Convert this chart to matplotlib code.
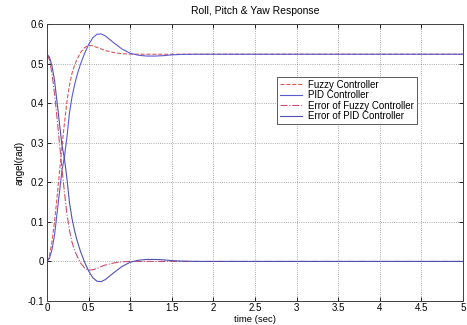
import matplotlib
matplotlib.use("Agg")
import matplotlib.pyplot as plt

plt.rcParams['font.family'] = ['Liberation Sans', 'DejaVu Sans']

time = [0, 0.03, 0.06, 0.09, 0.12, 0.15, 0.18, 0.21, 0.24, 0.27, 0.30, 0.33, 0.36,
        0.40, 0.45, 0.50, 0.55, 0.60, 0.65, 0.70, 0.80, 0.90, 1.00, 1.10, 1.20,
        1.30, 1.40, 1.50, 1.60, 1.80, 2.0, 3.0, 4.0, 5.0]

fuzzy = [0, 0.015, 0.05, 0.10, 0.16, 0.225, 0.29, 0.35, 0.405, 0.445, 0.475, 0.495, 0.51,
         0.527, 0.540, 0.546, 0.545, 0.541, 0.537, 0.533, 0.528, 0.525, 0.524, 0.5236, 0.5236,
         0.5236, 0.5236, 0.5236, 0.5236, 0.5236, 0.5236, 0.5236, 0.5236, 0.5236]

pid = [0, 0.008, 0.03, 0.066, 0.12, 0.175, 0.23, 0.265, 0.315, 0.375, 0.415, 0.445, 0.47,
       0.497, 0.525, 0.548, 0.565, 0.574, 0.575, 0.570, 0.553, 0.537, 0.526, 0.521, 0.519,
       0.519, 0.520, 0.522, 0.523, 0.5236, 0.5236, 0.5236, 0.5236, 0.5236]

err_fuzzy = [0.5236, 0.509, 0.474, 0.424, 0.364, 0.299, 0.234, 0.174, 0.119, 0.079, 0.049, 0.029, 0.014,
             -0.003, -0.016, -0.022, -0.021, -0.018, -0.013, -0.009, -0.004, -0.001, 0.0, 0.0, 0.0,
             0.0, 0.0, 0.0, 0.0, 0.0, 0.0, 0.0, 0.0, 0.0]

err_pid = [0.5236, 0.516, 0.494, 0.458, 0.404, 0.349, 0.294, 0.259, 0.209, 0.149, 0.109, 0.079, 0.054,
           0.027, -0.001, -0.024, -0.041, -0.050, -0.051, -0.046, -0.029, -0.013, -0.002, 0.003, 0.005,
           0.005, 0.004, 0.002, 0.001, 0.0, 0.0, 0.0, 0.0, 0.0]

xticks = [0, 0.5, 1, 1.5, 2, 2.5, 3, 3.5, 4, 4.5, 5]
xticklabels = ['0', '0.5', '1', '1.5', '2', '2.5', '3', '3.5', '4', '4.5', '5']
yticks = [-0.1, 0, 0.1, 0.2, 0.3, 0.4, 0.5, 0.6]
yticklabels = ['-0.1', '0', '0.1', '0.2', '0.3', '0.4', '0.5', '0.6']

fig = plt.figure(figsize=(4.67, 3.25), dpi=100)
ax = fig.add_axes([47/467, 24/325, 416/467, 277/325])

red = '#d85a5a'
blue = '#5a5ad2'
ax.plot(time, fuzzy, '--', color=red, lw=0.8, label='Fuzzy Controller')
ax.plot(time, pid, '-', color=blue, lw=0.8, label='PID Controller')
ax.plot(time, err_fuzzy, '-.', color='#c8506e', lw=0.8, label='Error of Fuzzy Controller')
ax.plot(time, err_pid, '-', color='#5050b4', lw=0.8, label='Error of PID Controller')

ax.set_xlim(0, 5)
ax.set_ylim(-0.1, 0.6)
ax.set_xticks(xticks)
ax.set_xticklabels(xticklabels)
ax.set_yticks(yticks)
ax.set_yticklabels(yticklabels)
ax.tick_params(direction='in', labelsize=7, length=3, width=0.6, top=True, right=True, pad=2)
ax.tick_params(axis='x', pad=1.5)
ax.grid(True, linestyle=':', color='#909090', linewidth=0.6)
for s in ax.spines.values():
    s.set_linewidth(0.7)
    s.set_color('#404040')

ax.set_title('Roll, Pitch & Yaw Response', fontsize=7.5, pad=7)
ax.set_ylabel('angel(rad)', fontsize=7, labelpad=2)
fig.text(255/467, 1 - 319.5/325, 'time (sec)', fontsize=6.8, ha='center', va='center')

leg = ax.legend(loc='upper left', bbox_to_anchor=(0.553, 0.809), borderaxespad=0,
                fontsize=7, fancybox=False, edgecolor='#404040', framealpha=1,
                handlelength=2.3, labelspacing=0.05, borderpad=0.3, handletextpad=0.6)
leg.get_frame().set_linewidth(0.6)

fig.savefig('out.png', dpi=100, facecolor='white')
